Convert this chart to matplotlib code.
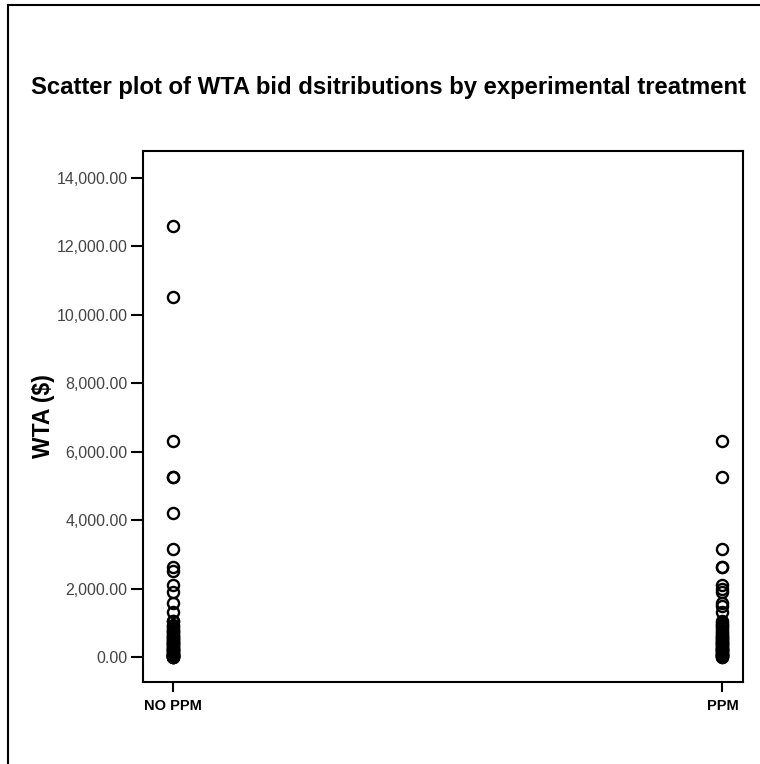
import matplotlib.pyplot as plt
from matplotlib.lines import Line2D
from matplotlib.ticker import FuncFormatter

plt.rcParams['font.family'] = ['Liberation Sans', 'DejaVu Sans']

# WTA bids ($)
treatments = ['NO PPM', 'PPM']
wta_no_ppm = [12600, 10500, 6300, 5250, 5250, 4200, 3150, 2630, 2500, 2100, 1890,
              1580, 1310, 1050, 1050, 950, 900, 840, 800, 760, 740, 700, 650, 630,
              600, 550, 525, 500, 475, 450, 420, 400, 375, 350, 315, 300, 275, 250,
              225, 210, 200, 175, 150, 125, 105, 100, 75, 60, 50, 40, 25, 20, 10,
              5, 0, 0]
wta_ppm = [6300, 5250, 3150, 2630, 2630, 2100, 2000, 1890, 1580, 1500, 1310, 1050,
           1000, 950, 900, 840, 800, 740, 700, 650, 630, 600, 550, 525, 500, 475,
           450, 420, 400, 375, 350, 315, 300, 275, 250, 225, 210, 200, 175, 150,
           125, 105, 100, 75, 50, 40, 25, 10, 0]
y_ticks = [0, 2000, 4000, 6000, 8000, 10000, 12000, 14000]

fig = plt.figure(figsize=(7.6, 7.64), dpi=100)
ax = fig.add_axes([0.188, 0.1073, 0.79, 0.695])

for i, vals in enumerate([wta_no_ppm, wta_ppm]):
    ax.plot([i] * len(vals), vals, linestyle='none', marker='o', markersize=8,
            markerfacecolor='none', markeredgecolor='black', markeredgewidth=1.7)

ax.set_xlim(-0.0546, 1.038)
ax.set_ylim(-727, 14774)
ax.set_xticks([0, 1])
ax.set_xticklabels(treatments, fontsize=10.5, fontweight='bold')
ax.set_yticks(y_ticks)
ax.yaxis.set_major_formatter(FuncFormatter(lambda v, p: f'{v:,.2f}'))
ax.tick_params(axis='y', labelsize=11.5, labelcolor='#444444', length=9, width=1.5, pad=2)
ax.tick_params(axis='x', length=7, width=1.5, pad=5)
for s in ax.spines.values():
    s.set_linewidth(1.5)

ax.set_ylabel('WTA ($)', fontsize=16.5, fontweight='bold', labelpad=1)
fig.text(0.511, 0.886, 'Scatter plot of WTA bid dsitributions by experimental treatment',
         ha='center', va='center', fontsize=17.2, fontweight='bold')

# outer frame
fig.add_artist(Line2D([0.0105, 0.0105], [0, 0.9935], transform=fig.transFigure,
                      color='black', linewidth=1.5))
fig.add_artist(Line2D([0.0105, 1.0], [0.9935, 0.9935], transform=fig.transFigure,
                      color='black', linewidth=1.5))

fig.savefig('out.png', dpi=100)
